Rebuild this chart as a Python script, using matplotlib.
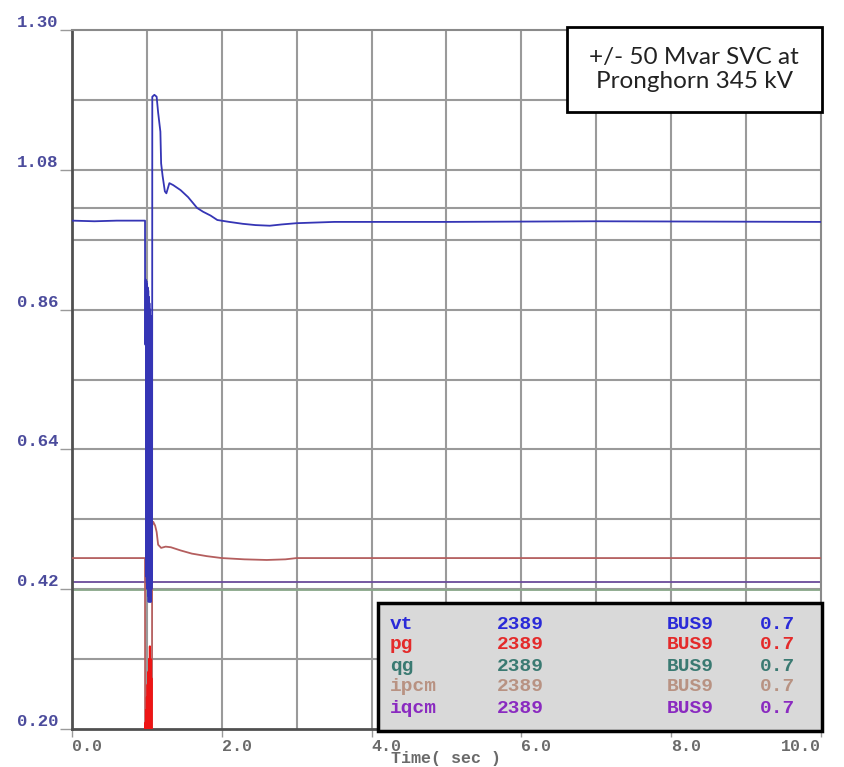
import numpy as np
import matplotlib
matplotlib.use("Agg")
import matplotlib.pyplot as plt
from matplotlib.patches import Rectangle

plt.rcParams["font.family"] = "Liberation Mono"

# Terminal voltage (vt), per unit
vt_t = [0.0, 0.30, 0.60, 0.975, 0.976, 0.984, 0.986,
        0.990, 0.994, 0.998, 1.002, 1.006, 1.010, 1.014, 1.018, 1.022,
        1.026, 1.030, 1.034, 1.038, 1.042, 1.046, 1.050, 1.054, 1.058,
        1.062, 1.066, 1.069,
        1.072, 1.10, 1.13, 1.15, 1.18, 1.19, 1.21, 1.24, 1.26, 1.30, 1.35,
        1.45, 1.55, 1.67, 1.75, 1.85, 1.94, 2.10, 2.28, 2.45, 2.64, 2.80,
        3.00, 3.50, 5.00, 7.00, 10.0]
vt_v = [1.000, 0.999, 1.000, 1.000, 0.805, 0.805, 0.907,
        0.44, 0.905, 0.43, 0.90, 0.42, 0.895, 0.41, 0.89, 0.40,
        0.88, 0.41, 0.87, 0.40, 0.86, 0.41, 0.85, 0.40, 0.84,
        0.42, 0.80, 0.43,
        1.195, 1.198, 1.195, 1.170, 1.140, 1.090, 1.070, 1.046, 1.043, 1.059, 1.056,
        1.048, 1.037, 1.020, 1.014, 1.008, 1.001, 0.998, 0.995, 0.993, 0.992, 0.994,
        0.996, 0.998, 0.998, 0.999, 0.998]

# Active power (pg), only visible during the fault
pg_t = [0.0, 0.975, 0.980, 0.985, 0.990, 0.995, 1.000, 1.005, 1.010, 1.015,
        1.020, 1.025, 1.030, 1.035, 1.040, 1.045, 1.050, 1.055, 1.060, 1.065,
        1.068, 10.0]
pg_v = [0.05, 0.05, 0.21, 0.17, 0.23, 0.16, 0.25, 0.17, 0.27, 0.16,
        0.29, 0.18, 0.31, 0.19, 0.33, 0.20, 0.31, 0.18, 0.28, 0.16,
        0.05, 0.05]

# Active current command (ipcm)
ipcm_t = [0.0, 0.975, 0.976, 1.067, 1.070, 1.085, 1.11, 1.13, 1.15, 1.19,
          1.25, 1.32, 1.45, 1.60, 1.80, 2.00, 2.30, 2.60, 2.85, 3.00, 10.0]
ipcm_v = [0.469, 0.469, 0.10, 0.10, 0.520, 0.526, 0.520, 0.510, 0.490, 0.485,
          0.487, 0.486, 0.481, 0.476, 0.472, 0.469, 0.467, 0.466, 0.467, 0.469, 0.469]

# Reactive current command (iqcm) and reactive power (qg)
iqcm_t = [0.0, 10.0]
iqcm_v = [0.431, 0.431]
qg_t = [0.0, 10.0]
qg_v = [0.419, 0.419]

ref_level = 1.02

yticks = [0.20, 0.42, 0.64, 0.86, 1.08, 1.30]
xticks = [0.0, 2.0, 4.0, 6.0, 8.0, 10.0]

channels = ["vt", "pg", "qg", "ipcm", "iqcm"]
chan_colors = ["#2a2ad8", "#e42a2a", "#3a7a72", "#b89282", "#8a2ac0"]
chan_id = "2389"
chan_bus = "BUS9"
chan_kv = "0.7"

fig = plt.figure(figsize=(8.45, 7.67), dpi=100)
ax = fig.add_axes([72 / 845, 38 / 767, 749 / 845, 699 / 767])

grid_col = "#9a9a9a"
for x in np.arange(1.0, 10.0, 1.0):
    ax.axvline(x, color=grid_col, lw=1.5, zorder=1)
for y in np.arange(0.31, 1.30, 0.11):
    ax.axhline(y, color=grid_col, lw=1.5, zorder=1)
ax.axhline(ref_level, color=grid_col, lw=1.5, zorder=1)

ax.plot(qg_t, qg_v, color="#8aa88a", lw=1.3, zorder=2)
ax.plot(iqcm_t, iqcm_v, color="#6a4a9a", lw=1.3, zorder=2)
ax.plot(ipcm_t, ipcm_v, color="#b45e5e", lw=1.3, zorder=3)
ax.plot(pg_t, pg_v, color="#ee1515", lw=1.5, zorder=3)
ax.plot(vt_t, vt_v, color="#3535b5", lw=1.3, zorder=4)

ax.set_xlim(0, 10)
ax.set_ylim(0.20, 1.30)

for side in ["top", "right"]:
    ax.spines[side].set_color("#8a8a8a")
    ax.spines[side].set_linewidth(1.5)
for side in ["left", "bottom"]:
    ax.spines[side].set_color("#505050")
    ax.spines[side].set_linewidth(2)

ax.set_yticks(yticks)
ax.set_yticklabels(["%.2f" % v for v in yticks], color="#4b4b9c",
                   fontsize=12.5, fontweight="bold")
for lab in ax.get_yticklabels():
    lab.set_verticalalignment("bottom")
ax.tick_params(axis="y", length=9, width=1, color="#9a9a9a", pad=1)

ax.set_xticks(xticks)
ax.set_xticklabels(["%.1f" % v for v in xticks], color="#6a6a6a",
                   fontsize=12, fontweight="bold")
for i, lab in enumerate(ax.get_xticklabels()):
    lab.set_horizontalalignment("right" if i == len(xticks) - 1 else "left")
ax.tick_params(axis="x", length=6, width=1, color="#9a9a9a", pad=1)
fig.text(446 / 845, 0.5 / 767, "Time( sec )", color="#6a6a6a", fontsize=12,
         fontweight="bold", ha="center", va="bottom")

# Channel list box
ax.add_patch(Rectangle((0.4085, -0.003), 0.593, 0.183, transform=ax.transAxes,
                       facecolor="#d9d9d9", edgecolor="black", lw=2.5,
                       clip_on=False, zorder=10))
row_y = [0.1488, 0.1202, 0.0901, 0.0601, 0.0300]
for name, col, y in zip(channels, chan_colors, row_y):
    for x, s in zip([0.4246, 0.5674, 0.7944, 0.9186],
                    [name, chan_id, chan_bus, chan_kv]):
        ax.text(x, y, s, transform=ax.transAxes, color=col, fontsize=14,
                fontweight="bold", ha="left", va="center", zorder=11)

# Case title box
ax.add_patch(Rectangle((0.661, 0.8827), 0.340, 0.1216, transform=ax.transAxes,
                       facecolor="white", edgecolor="black", lw=2,
                       clip_on=False, zorder=10))
ax.text(0.8305, 0.9435, "+/- 50 Mvar SVC at\nPronghorn 345 kV",
        transform=ax.transAxes, ha="center", va="center", fontsize=17.5,
        family="Lato", color="#222222", linespacing=1.2, zorder=11)

fig.savefig("out.png", dpi=100)
